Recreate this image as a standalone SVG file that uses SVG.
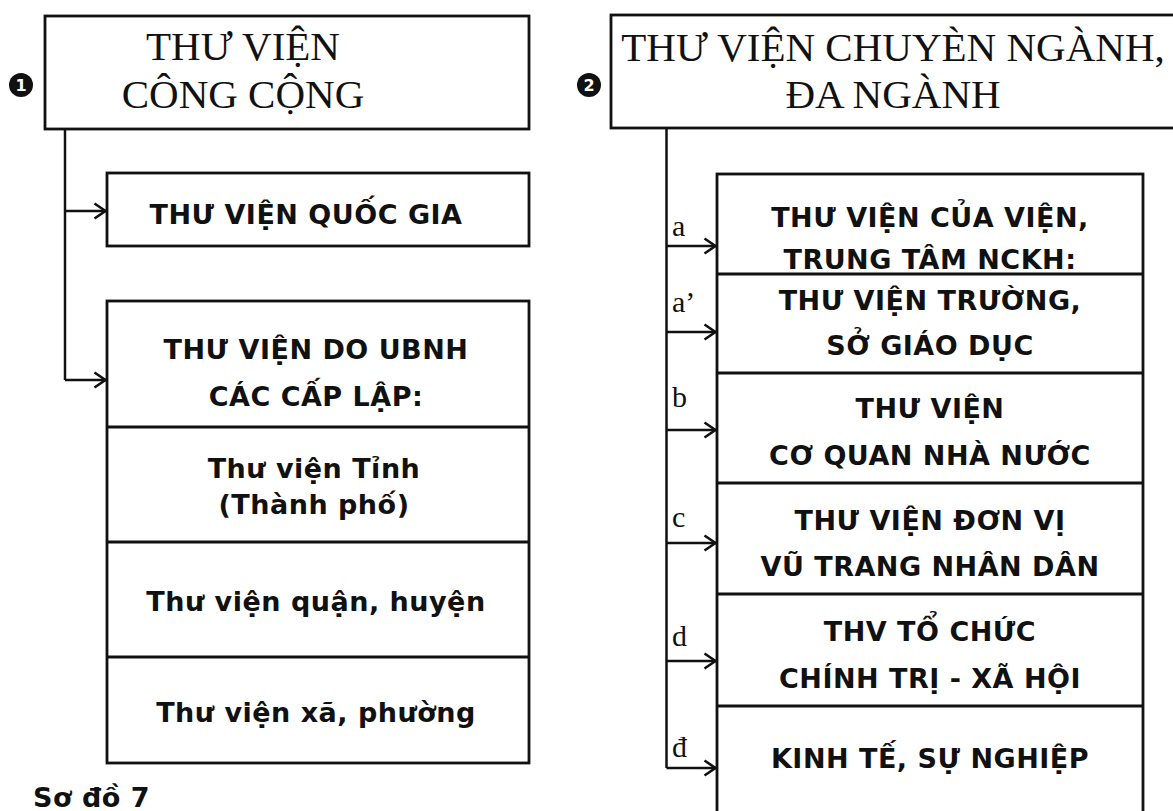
<svg xmlns="http://www.w3.org/2000/svg" width="1173" height="811" viewBox="0 0 1173 811">
<style>
.box{fill:#fff;stroke:#111;stroke-width:2.8}
.div{stroke:#111;stroke-width:2.8}
.conn{fill:none;stroke:#111;stroke-width:2.5}
.ser{font-family:"Liberation Serif","Times New Roman",serif;fill:#111}
.title{font-size:41px;text-anchor:middle}
.lab{font-size:30px}
.sans{font-family:"DejaVu Sans","Liberation Sans",sans-serif;font-weight:bold;fill:#111;font-size:27px;letter-spacing:0.5px;text-anchor:middle}
.num{font-family:"DejaVu Sans",sans-serif;font-weight:bold;fill:#fff;font-size:16px;text-anchor:middle}
</style>
<defs>
<marker id="arr" viewBox="0 0 14 18" refX="13" refY="9" markerWidth="14" markerHeight="18" markerUnits="userSpaceOnUse" orient="auto">
<path d="M1.5,1.5 L12.5,9 L1.5,16.5" fill="none" stroke="#111" stroke-width="2.6"/>
</marker>
</defs>
<rect width="1173" height="811" fill="#fff"/>

<g id="connectors">
<path class="conn" d="M65,129 V380"/>
<path class="conn" d="M65,211 H106" marker-end="url(#arr)"/>
<path class="conn" d="M65,380 H106" marker-end="url(#arr)"/>
<path class="conn" d="M666.5,128 V768"/>
<path class="conn" d="M666.5,246 H716" marker-end="url(#arr)"/>
<path class="conn" d="M666.5,332 H716" marker-end="url(#arr)"/>
<path class="conn" d="M666.5,430 H716" marker-end="url(#arr)"/>
<path class="conn" d="M666.5,543 H716" marker-end="url(#arr)"/>
<path class="conn" d="M666.5,661 H716" marker-end="url(#arr)"/>
<path class="conn" d="M666.5,768 H716" marker-end="url(#arr)"/>
</g>

<g id="node-cong-cong">
<rect class="box" x="45" y="16" width="484" height="113"/>
<circle cx="21" cy="85" r="12" fill="#111"/>
<text class="num" x="21" y="91">1</text>
<text class="ser title" x="243" y="60">THƯ VIỆN</text>
<text class="ser title" x="243" y="108">CÔNG CỘNG</text>
</g>

<g id="node-quoc-gia">
<rect class="box" x="107" y="173" width="422" height="73"/>
<text class="sans" x="306" y="224">THƯ VIỆN QUỐC GIA</text>
</g>

<g id="node-ubnh">
<rect class="box" x="107" y="301" width="422" height="462"/>
<line class="div" x1="107" y1="427" x2="529" y2="427"/>
<line class="div" x1="107" y1="542" x2="529" y2="542"/>
<line class="div" x1="107" y1="657" x2="529" y2="657"/>
<text class="sans" x="316" y="359">THƯ VIỆN DO UBNH</text>
<text class="sans" x="316" y="406">CÁC CẤP LẬP:</text>
<text class="sans" x="314" y="478">Thư viện Tỉnh</text>
<text class="sans" x="314" y="514">(Thành phố)</text>
<text class="sans" x="316" y="611">Thư viện quận, huyện</text>
<text class="sans" x="316" y="722">Thư viện xã, phường</text>
</g>

<text class="sans" x="33" y="807" style="text-anchor:start">Sơ đồ 7</text>

<g id="node-chuyen-nganh">
<rect class="box" x="611" y="15" width="580" height="113"/>
<circle cx="589" cy="85" r="12" fill="#111"/>
<text class="num" x="589" y="91">2</text>
<text class="ser title" x="893" y="61">THƯ VIỆN CHUYÈN NGÀNH,</text>
<text class="ser title" x="893" y="108">ĐA NGÀNH</text>
</g>

<g id="node-stack-right">
<rect class="box" x="717" y="174" width="426" height="660"/>
<line class="div" x1="717" y1="274" x2="1143" y2="274"/>
<line class="div" x1="717" y1="373" x2="1143" y2="373"/>
<line class="div" x1="717" y1="483" x2="1143" y2="483"/>
<line class="div" x1="717" y1="594" x2="1143" y2="594"/>
<line class="div" x1="717" y1="706" x2="1143" y2="706"/>
<text class="sans" x="930" y="227">THƯ VIỆN CỦA VIỆN,</text>
<text class="sans" x="930" y="269">TRUNG TÂM NCKH:</text>
<text class="sans" x="930" y="310">THƯ VIỆN TRƯỜNG,</text>
<text class="sans" x="930" y="355">SỞ GIÁO DỤC</text>
<text class="sans" x="930" y="418">THƯ VIỆN</text>
<text class="sans" x="930" y="465">CƠ QUAN NHÀ NƯỚC</text>
<text class="sans" x="930" y="530">THƯ VIỆN ĐƠN VỊ</text>
<text class="sans" x="930" y="576">VŨ TRANG NHÂN DÂN</text>
<text class="sans" x="930" y="641">THV TỔ CHỨC</text>
<text class="sans" x="930" y="688">CHÍNH TRỊ - XÃ HỘI</text>
<text class="sans" x="930" y="768">KINH TẾ, SỰ NGHIỆP</text>
</g>

<g id="labels">
<text class="ser lab" x="672" y="236">a</text>
<text class="ser lab" x="672" y="312">a’</text>
<text class="ser lab" x="672" y="407">b</text>
<text class="ser lab" x="672" y="527">c</text>
<text class="ser lab" x="672" y="646">d</text>
<text class="ser lab" x="672" y="757">đ</text>
</g>
</svg>
